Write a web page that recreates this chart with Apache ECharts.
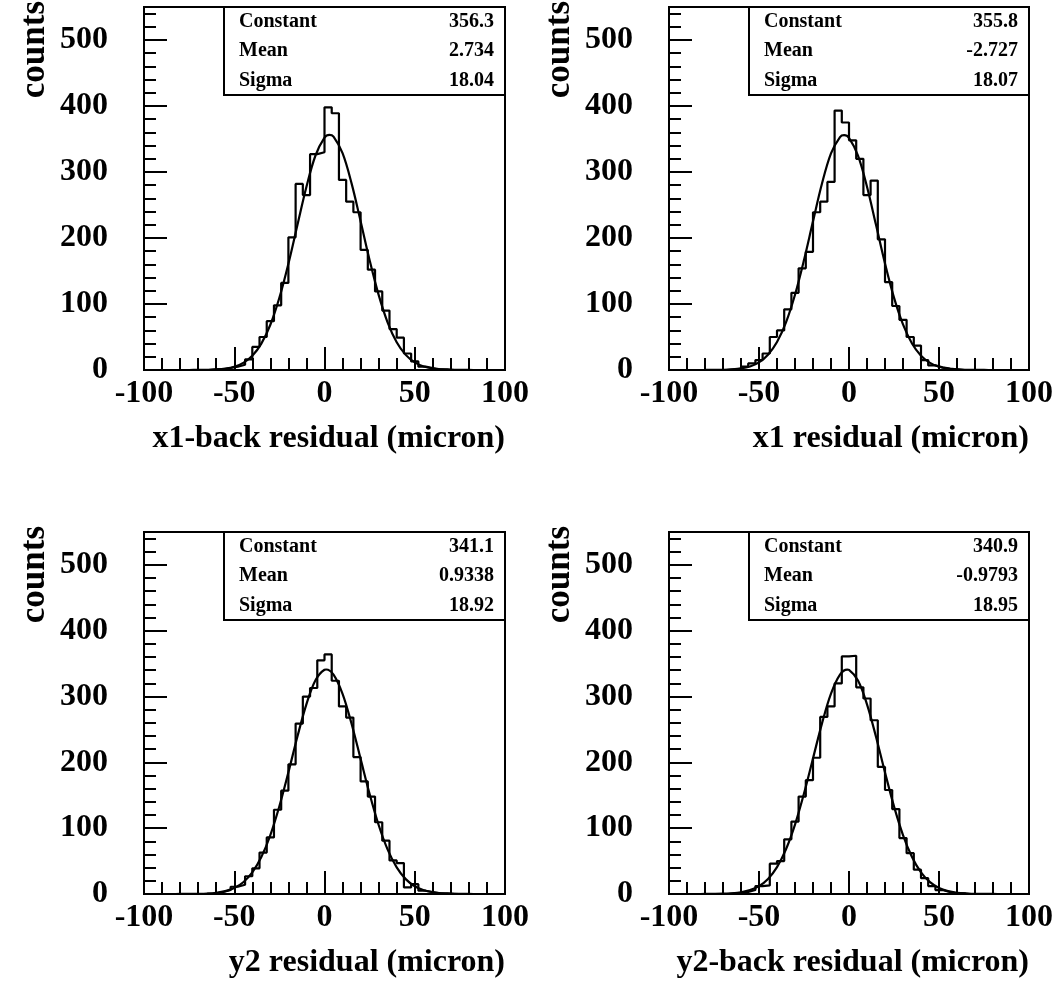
<!DOCTYPE html>
<html><head><meta charset="utf-8">
<script src="https://cdn.jsdelivr.net/npm/echarts@6/dist/echarts.min.js"></script>
<style>html,body{margin:0;padding:0;background:#fff}#c{width:1058px;height:991px}</style>
</head><body><div id="c"></div>
<script>
// ---- data ----
const binLow = -100, binWidth = 4;
const counts1 = [0,0,0,0,0,0,0,0,0,1,1,3,5,8,16,35,50,74,98,132,201,282,265,327,330,398,389,288,255,239,182,152,119,90,62,49,25,13,5,3,1,1,0,0,0,0,0,0,0,0];
const counts2 = [0,0,0,0,0,0,0,0,1,1,5,10,15,25,50,60,92,117,154,179,239,255,285,393,375,348,320,265,287,198,133,97,76,50,37,15,7,4,2,1,0,0,0,0,0,0,0,0,0,0];
const counts3 = [0,0,0,0,0,0,0,0,0,1,3,6,11,14,27,39,63,86,128,157,197,259,300,313,355,364,324,285,268,208,171,148,109,81,51,47,10,15,5,3,1,1,0,0,0,0,0,0,0,0];
const counts4 = [0,0,0,0,0,0,0,0,1,1,3,6,12,13,46,50,83,110,148,173,207,269,285,320,361,362,314,297,264,193,158,129,85,62,37,24,12,6,3,1,1,0,0,0,0,0,0,0,0,0];
const fitX = [-100,-95,-90,-85,-80,-75,-70,-65,-60,-55,-50,-45,-40,-35,-30,-25,-20,-15,-10,-5,0,5,10,15,20,25,30,35,40,45,50,55,60,65,70,75,80,85,90,95,100];
const fit1 = [0,0,0,0,0.01,0.03,0.11,0.31,0.84,2.13,4.97,10.76,21.54,39.95,68.6,109.4,161.1,219.8,277.7,325.0,352.2,353.5,328.5,282.8,225.4,166.4,113.8,71.9,42.1,22.9,11.52,5.36,2.31,0.92,0.34,0.12,0.04,0.01,0,0,0];
const fit2 = [0,0,0,0.01,0.04,0.12,0.35,0.94,2.34,5.42,11.62,23.1,42.4,72.2,114.0,166.6,225.3,282.5,328.1,353.0,351.8,324.7,277.7,219.9,161.3,109.6,69.0,40.2,21.7,10.87,5.04,2.16,0.86,0.32,0.11,0.04,0.01,0,0,0,0];
const fit3 = [0,0,0,0.01,0.04,0.11,0.30,0.78,1.91,4.31,9.10,17.9,32.8,56.1,89.6,133.3,184.9,239.2,288.6,324.7,340.7,333.3,304.1,258.7,205.3,151.9,104.8,67.4,40.5,22.6,11.81,5.75,2.61,1.10,0.44,0.16,0.05,0.02,0.01,0,0];
const fit4 = [0,0,0.01,0.02,0.06,0.17,0.45,1.14,2.67,5.86,12.01,22.95,40.9,68.0,105.5,152.7,206.0,259.3,304.4,333.3,340.4,324.3,288.2,238.9,184.7,133.2,89.6,56.2,32.9,17.96,9.14,4.34,1.92,0.79,0.31,0.11,0.04,0.01,0,0,0];
const statLabels = ['Constant','Mean','Sigma'];
const stats1 = ['356.3','2.734','18.04'];
const stats2 = ['355.8','-2.727','18.07'];
const stats3 = ['341.1','0.9338','18.92'];
const stats4 = ['340.9','-0.9793','18.95'];
const xTitles = ['x1-back residual (micron)','x1 residual (micron)','y2 residual (micron)','y2-back residual (micron)'];
const yTitle = 'counts';

// ---- layout ----
const layout = [
  {left:144, top:7, width:361, height:363},
  {left:669, top:7, width:360, height:363},
  {left:144, top:532, width:361, height:362},
  {left:669, top:532, width:360, height:362}
];
const panels = [
  {counts:counts1, fit:fit1, stats:stats1},
  {counts:counts2, fit:fit2, stats:stats2},
  {counts:counts3, fit:fit3, stats:stats3},
  {counts:counts4, fit:fit4, stats:stats4}
];
const FONT = '"Liberation Serif", "Times New Roman", serif';
const txt = {fontFamily:FONT, fontWeight:'bold', fontSize:32, color:'#000'};
const noLine = {show:false, onZero:false};

const grid=[], xAxis=[], yAxis=[], series=[], graphic=[];
panels.forEach((p,i)=>{
  const L = layout[i];
  grid.push({left:L.left, top:L.top, width:L.width, height:L.height, show:true,
    borderColor:'#000', borderWidth:2, backgroundColor:'transparent', containLabel:false});
  // major x
  xAxis.push({gridIndex:i, type:'value', position:'bottom', min:-100, max:100, interval:50,
    axisLine:noLine, splitLine:{show:false},
    axisTick:{show:true, inside:true, length:23, lineStyle:{color:'#000', width:2}},
    axisLabel:Object.assign({margin:8}, txt),
    name:xTitles[i], nameLocation:'end', nameGap:0, nameMoveOverlap:false,
    nameTextStyle:Object.assign({align:'right', verticalAlign:'top', padding:[53,0,0,0]}, txt)});
  // minor x
  xAxis.push({gridIndex:i, type:'value', position:'bottom', min:-100, max:100, interval:10,
    axisLine:noLine, splitLine:{show:false}, axisLabel:{show:false},
    axisTick:{show:true, inside:true, length:12, lineStyle:{color:'#000', width:2}}});
  // major y
  yAxis.push({gridIndex:i, type:'value', position:'left', min:0, max:550, interval:100,
    axisLine:noLine, splitLine:{show:false},
    axisTick:{show:true, inside:true, length:23, lineStyle:{color:'#000', width:2}},
    axisLabel:Object.assign({margin:36, showMaxLabel:false}, txt),
    name:yTitle, nameLocation:'end', nameGap:6, nameRotate:90, nameMoveOverlap:false,
    nameTextStyle:Object.assign({}, txt, {fontSize:35, align:'right', verticalAlign:'bottom', padding:[0,0,92,0]})});
  // minor y
  yAxis.push({gridIndex:i, type:'value', position:'left', min:0, max:550, interval:20,
    axisLine:noLine, splitLine:{show:false}, axisLabel:{show:false},
    axisTick:{show:true, inside:true, length:12, lineStyle:{color:'#000', width:2}}});

  const hist = p.counts.map((c,k)=>[binLow + k*binWidth, c]);
  hist.push([binLow + p.counts.length*binWidth, p.counts[p.counts.length-1]]);
  series.push({type:'line', xAxisIndex:2*i, yAxisIndex:2*i, data:hist, step:'end',
    symbol:'none', lineStyle:{color:'#000', width:2.2}, silent:true, z:3});
  const fitPts = fitX.map((x,j)=>[x, p.fit[j]]);
  fitPts.push([Number(p.stats[1]), Number(p.stats[0])]);
  fitPts.sort((a,b)=>a[0]-b[0]);
  series.push({type:'line', xAxisIndex:2*i, yAxisIndex:2*i, data:fitPts, smooth:0.35,
    symbol:'none', lineStyle:{color:'#000', width:2.2}, silent:true, z:4});

  // stats box
  const bx = L.left + 80, bw = L.width - 80, bh = 88;
  graphic.push({type:'rect', z:100, shape:{x:bx, y:L.top, width:bw, height:bh},
    style:{fill:'#fff', stroke:'#000', lineWidth:2}});
  statLabels.forEach((lab,r)=>{
    const yy = L.top + bh*(2*r+1)/6;
    graphic.push({type:'text', z:101, x:bx+15, y:yy,
      style:{text:lab, font:'bold 20px ' + FONT, fill:'#000', align:'left', verticalAlign:'middle'}});
    graphic.push({type:'text', z:101, x:bx+bw-11, y:yy,
      style:{text:p.stats[r], font:'bold 20px ' + FONT, fill:'#000', align:'right', verticalAlign:'middle'}});
  });
});

const chart = echarts.init(document.getElementById('c'), null, {renderer:'canvas'});
chart.setOption({animation:false, backgroundColor:'#fff', grid, xAxis, yAxis, series, graphic});
</script></body></html>
